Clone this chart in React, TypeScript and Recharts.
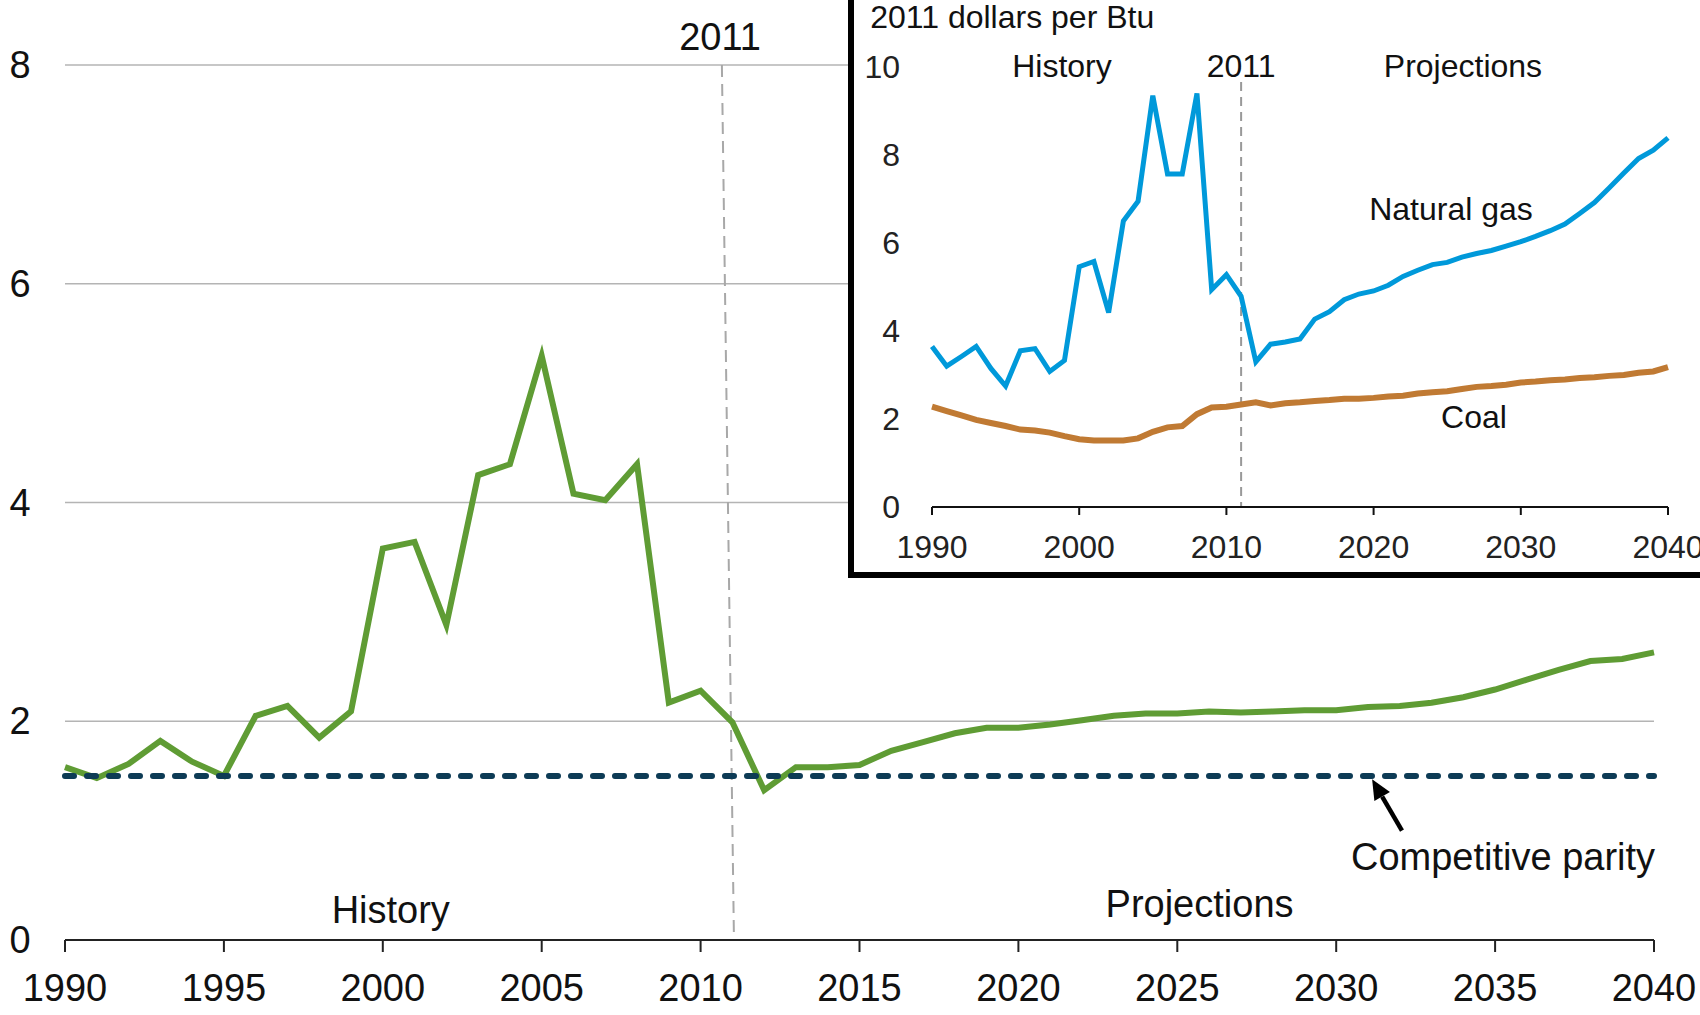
import React from "react"
import { LineChart, Line, XAxis, YAxis, CartesianGrid, ReferenceLine, ReferenceDot } from "recharts"

const years = [
  1990, 1991, 1992, 1993, 1994, 1995, 1996, 1997, 1998, 1999,
  2000, 2001, 2002, 2003, 2004, 2005, 2006, 2007, 2008, 2009,
  2010, 2011, 2012, 2013, 2014, 2015, 2016, 2017, 2018, 2019,
  2020, 2021, 2022, 2023, 2024, 2025, 2026, 2027, 2028, 2029,
  2030, 2031, 2032, 2033, 2034, 2035, 2036, 2037, 2038, 2039, 2040,
]

// ratio of natural gas price to coal price
const gasToCoalRatio = [
  1.58, 1.48, 1.61, 1.82, 1.63, 1.5, 2.05, 2.14, 1.85, 2.09,
  3.58, 3.64, 2.88, 4.25, 4.35, 5.34, 4.08, 4.02, 4.35, 2.17,
  2.28, 1.99, 1.37, 1.58, 1.58, 1.6, 1.73, 1.81, 1.89, 1.94,
  1.94, 1.97, 2.01, 2.05, 2.07, 2.07, 2.09, 2.08, 2.09, 2.1,
  2.1, 2.13, 2.14, 2.17, 2.22, 2.29, 2.38, 2.47, 2.55, 2.57, 2.63,
]

// 2011 dollars per Btu (inset)
const naturalGasPrice = [
  3.65, 3.2, 3.42, 3.65, 3.15, 2.75, 3.55, 3.6, 3.08, 3.33,
  5.46, 5.58, 4.42, 6.5, 6.95, 9.35, 7.57, 7.57, 9.4, 4.94,
  5.28, 4.79, 3.3, 3.7, 3.75, 3.82, 4.27, 4.44, 4.71, 4.84,
  4.91, 5.04, 5.24, 5.38, 5.51, 5.56, 5.68, 5.76, 5.83, 5.93,
  6.03, 6.15, 6.28, 6.43, 6.67, 6.92, 7.25, 7.59, 7.92, 8.11, 8.39,
]

const coalPrice = [
  2.28, 2.18, 2.08, 1.98, 1.91, 1.84, 1.76, 1.74, 1.69, 1.61,
  1.54, 1.51, 1.51, 1.51, 1.56, 1.71, 1.81, 1.84, 2.11, 2.26,
  2.28, 2.33, 2.38, 2.31, 2.36, 2.38, 2.41, 2.43, 2.46, 2.46,
  2.48, 2.51, 2.53, 2.58, 2.61, 2.63, 2.68, 2.73, 2.75, 2.78,
  2.83, 2.85, 2.88, 2.9, 2.93, 2.95, 2.98, 3.0, 3.05, 3.08, 3.18,
]

const parityLevel = 1.5
const mainXTicks = [1990, 1995, 2000, 2005, 2010, 2015, 2020, 2025, 2030, 2035, 2040]
const mainYTicks = [0, 2, 4, 6, 8]
const insetXTicks = [1990, 2000, 2010, 2020, 2030, 2040]
const insetYTicks = [0, 2, 4, 6, 8, 10]

const data = years.map((year, i) => ({
  year,
  ratio: gasToCoalRatio[i],
  gas: naturalGasPrice[i],
  coal: coalPrice[i],
}))

const FONT = "'Liberation Sans', Arial, sans-serif"

function textAt(label: string, size: number, anchor: "start" | "middle" | "end" = "middle") {
  return (p: any) => (
    <text x={p.cx} y={p.cy} textAnchor={anchor} fontSize={size} fontFamily={FONT} fill="#111">
      {label}
    </text>
  )
}

function Arrow(p: any) {
  const { x1, y1, x2, y2 } = p
  const dx = x2 - x1
  const dy = y2 - y1
  const len = Math.hypot(dx, dy) || 1
  const ux = dx / len
  const uy = dy / len
  const hl = 20
  const hw = 9
  const bx = x2 - ux * hl
  const by = y2 - uy * hl
  return (
    <g>
      <line x1={x1} y1={y1} x2={bx} y2={by} stroke="#000" strokeWidth={4.5} />
      <polygon
        points={`${x2},${y2} ${bx - uy * hw},${by + ux * hw} ${bx + uy * hw},${by - ux * hw}`}
        fill="#000"
      />
    </g>
  )
}

export default function App() {
  return (
    <div style={{ position: "absolute", left: 0, top: 0, width: 1700, height: 1015, background: "#fff", overflow: "hidden" }}>
      <div style={{ position: "absolute", left: 0, top: 0 }}>
        <LineChart width={1700} height={1015} data={data} margin={{ top: 65, right: 46, bottom: 0, left: 0 }}>
          <CartesianGrid vertical={false} stroke="#b4b4b4" strokeWidth={1.5} />
          <XAxis
            dataKey="year"
            type="number"
            domain={[1990, 2040]}
            ticks={mainXTicks}
            height={75}
            tickSize={12}
            tickMargin={22}
            axisLine={{ stroke: "#222", strokeWidth: 2 }}
            tickLine={{ stroke: "#222", strokeWidth: 2 }}
            tick={{ fontSize: 38, fontFamily: FONT, fill: "#111" }}
            interval={0}
          />
          <YAxis
            type="number"
            domain={[0, 8]}
            ticks={mainYTicks}
            width={65}
            axisLine={false}
            tickLine={false}
            tick={(p: any) => (
              <text x={20} y={p.y} textAnchor="middle" dominantBaseline="central" fontSize={38} fontFamily={FONT} fill="#111">
                {p.payload.value}
              </text>
            )}
          />
          <ReferenceLine
            segment={[{ x: 2010.67, y: 8 }, { x: 2011.05, y: 0 }]}
            stroke="#a8a8a8"
            strokeWidth={2}
            strokeDasharray="12 7"
          />
          <Line type="linear" dataKey="ratio" stroke="#5f9c34" strokeWidth={6} dot={false} activeDot={false} isAnimationActive={false} />
          <ReferenceLine
            y={parityLevel}
            stroke="#0d3b55"
            strokeWidth={6}
            strokeDasharray="9 13"
            strokeLinecap="round"
          />
          <ReferenceLine segment={[{ x: 2032.07, y: 1.0 }, { x: 2031.13, y: 1.47 }]} shape={Arrow} />
          <ReferenceDot x={2010.61} y={8.14} r={0} ifOverflow="visible" shape={textAt("2011", 38)} />
          <ReferenceDot x={2000.25} y={0.155} r={0} ifOverflow="visible" shape={textAt("History", 38)} />
          <ReferenceDot x={2025.7} y={0.21} r={0} ifOverflow="visible" shape={textAt("Projections", 38)} />
          <ReferenceDot x={2035.25} y={0.64} r={0} ifOverflow="visible" shape={textAt("Competitive parity", 38)} />
        </LineChart>
      </div>
      <div
        style={{
          position: "absolute",
          left: 848,
          top: -20,
          width: 900,
          height: 598,
          boxSizing: "border-box",
          border: "6px solid #000",
          background: "#fff",
        }}
      />
      <div style={{ position: "absolute", left: 0, top: 0 }}>
        <LineChart width={1700} height={600} data={data} margin={{ top: 67, right: 32, bottom: 0, left: 852 }}>
          <XAxis
            dataKey="year"
            type="number"
            domain={[1990, 2040]}
            ticks={insetXTicks}
            height={93}
            tickSize={8}
            tickMargin={20}
            axisLine={{ stroke: "#111", strokeWidth: 2 }}
            tickLine={{ stroke: "#111", strokeWidth: 2 }}
            tick={{ fontSize: 32, fontFamily: FONT, fill: "#222" }}
            interval={0}
          />
          <YAxis
            type="number"
            domain={[0, 10]}
            ticks={insetYTicks}
            width={80}
            axisLine={false}
            tickLine={false}
            tick={(p: any) => (
              <text x={900} y={p.y} textAnchor="end" dominantBaseline="central" fontSize={32} fontFamily={FONT} fill="#222">
                {p.payload.value}
              </text>
            )}
          />
          <ReferenceLine
            segment={[{ x: 2011, y: 9.66 }, { x: 2011, y: 0 }]}
            stroke="#999"
            strokeWidth={2}
            strokeDasharray="9 6"
          />
          <Line type="linear" dataKey="coal" stroke="#c07a33" strokeWidth={6} dot={false} activeDot={false} isAnimationActive={false} />
          <Line type="linear" dataKey="gas" stroke="#0099da" strokeWidth={5} dot={false} activeDot={false} isAnimationActive={false} />
          <ReferenceDot x={1985.8} y={10.88} r={0} ifOverflow="visible" shape={textAt("2011 dollars per Btu", 32, "start")} />
          <ReferenceDot x={1998.83} y={9.77} r={0} ifOverflow="visible" shape={textAt("History", 32)} />
          <ReferenceDot x={2011} y={9.77} r={0} ifOverflow="visible" shape={textAt("2011", 32)} />
          <ReferenceDot x={2026.07} y={9.77} r={0} ifOverflow="visible" shape={textAt("Projections", 32)} />
          <ReferenceDot x={2025.26} y={6.52} r={0} ifOverflow="visible" shape={textAt("Natural gas", 32)} />
          <ReferenceDot x={2026.82} y={1.8} r={0} ifOverflow="visible" shape={textAt("Coal", 32)} />
        </LineChart>
      </div>
    </div>
  )
}
